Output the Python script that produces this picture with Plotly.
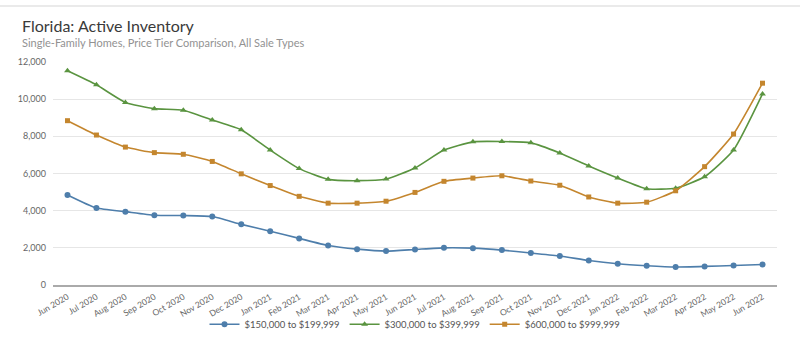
import plotly.graph_objects as go

months = ["Jun 2020","Jul 2020","Aug 2020","Sep 2020","Oct 2020","Nov 2020","Dec 2020",
          "Jan 2021","Feb 2021","Mar 2021","Apr 2021","May 2021","Jun 2021","Jul 2021",
          "Aug 2021","Sep 2021","Oct 2021","Nov 2021","Dec 2021","Jan 2022","Feb 2022",
          "Mar 2022","Apr 2022","May 2022","Jun 2022"]

tier_150_199 = [4842, 4140, 3947, 3754, 3737, 3684, 3263, 2895, 2508, 2123, 1930, 1825, 1912,
                2000, 1982, 1877, 1719, 1561, 1316, 1140, 1035, 965, 1000, 1053, 1105]
tier_300_399 = [11526, 10772, 9825, 9491, 9404, 8877, 8351, 7263, 6263, 5684, 5614, 5702, 6298,
                7263, 7702, 7719, 7649, 7105, 6404, 5754, 5175, 5210, 5824, 7263, 10281]
tier_600_999 = [8842, 8070, 7421, 7123, 7035, 6649, 5982, 5351, 4772, 4404, 4404, 4509, 4982,
                5579, 5754, 5877, 5596, 5368, 4737, 4404, 4456, 5070, 6368, 8123, 10860]

series = [
    ("$150,000 to $199,999", tier_150_199, "#4e7eab", "circle", 6),
    ("$300,000 to $399,999", tier_300_399, "#5a9440", "triangle-up", 6),
    ("$600,000 to $999,999", tier_600_999, "#c4862e", "square", 5),
]

fig = go.Figure()
for name, vals, col, sym, sz in series:
    fig.add_trace(go.Scatter(
        x=months, y=vals, name=name, mode="lines+markers",
        line=dict(color=col, width=1.6, shape="spline", smoothing=0.5),
        marker=dict(symbol=sym, size=sz, color=col),
    ))

font_family = "Lato, Noto Sans, sans-serif"
L, R, T, B = 53, 23, 62, 62
plot_h = 351 - T - B
plot_w = 800 - L - R
def px_to_paper(xp, yp):
    return (xp - L) / plot_w, (351 - B - yp) / plot_h

fig.update_layout(
    width=800, height=351,
    margin=dict(l=L, r=R, t=T, b=B),
    paper_bgcolor="white", plot_bgcolor="white",
    font=dict(family=font_family, color="#777"),
    showlegend=True,
    legend=dict(orientation="h", x=0.5, xanchor="center", y=px_to_paper(0, 329)[1], yanchor="middle",
                bgcolor="rgba(0,0,0,0)",
                font=dict(size=9.5, color="#555", family=font_family), itemwidth=30),
)
ax1 = px_to_paper(20, 25)
ax2 = px_to_paper(20, 42)
fig.add_annotation(text="Florida: Active Inventory", x=ax1[0], y=ax1[1], xref="paper", yref="paper",
                   xanchor="left", yanchor="middle", showarrow=False,
                   font=dict(size=16, color="#3a3a3a", family=font_family))
fig.add_annotation(text="Single-Family Homes, Price Tier Comparison, All Sale Types", x=ax2[0], y=ax2[1],
                   xref="paper", yref="paper", xanchor="left", yanchor="middle", showarrow=False,
                   font=dict(size=11, color="#929292", family=font_family))
fig.add_shape(type="line", xref="paper", yref="paper", x0=px_to_paper(0, 0)[0], x1=px_to_paper(800, 0)[0],
              y0=px_to_paper(0, 5)[1], y1=px_to_paper(0, 5)[1],
              line=dict(color="#e3e3e3", width=1.5))

fig.update_xaxes(type="category", range=[-0.5, 24.5], tickangle=-30,
                 tickfont=dict(size=8.5, color="#666", family=font_family), showgrid=False,
                 showline=True, linecolor="#aaaaaa", linewidth=2, ticks="", ticklabelstandoff=2)
fig.update_yaxes(range=[0, 12000], dtick=2000, tickformat=",", showgrid=True,
                 gridcolor="#e6e6e6", gridwidth=1, zeroline=False,
                 tickfont=dict(size=9, color="#666", family=font_family), ticks="", ticklabelstandoff=6)

fig.write_html("out.html")
